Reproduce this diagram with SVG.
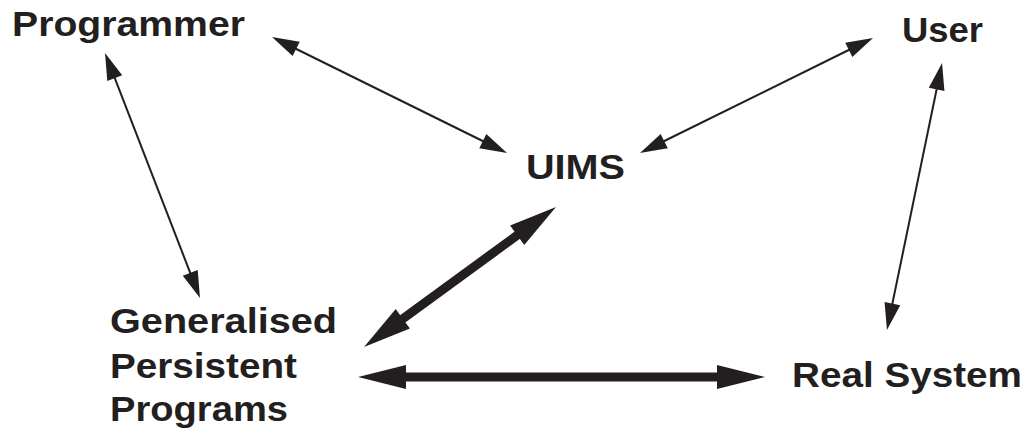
<svg xmlns="http://www.w3.org/2000/svg" width="1030" height="442" viewBox="0 0 1030 442">
<style>
text{font-family:"Liberation Sans",Arial,Helvetica,sans-serif;font-weight:bold;font-size:35px;fill:#231f20}
.thin{stroke:#231f20;stroke-width:2;fill:none}
.thick{stroke:#231f20;stroke-width:9;fill:none}
</style>
<defs>
<marker id="h" markerUnits="userSpaceOnUse" markerWidth="30" markerHeight="20" viewBox="0 -10 30 20" refX="0" refY="0" orient="auto-start-reverse" overflow="visible"><path d="M-1,-8 L26,0 L-1,8 z" fill="#231f20"/></marker>
<marker id="H" markerUnits="userSpaceOnUse" markerWidth="50" markerHeight="30" viewBox="0 -15 50 30" refX="0" refY="0" orient="auto-start-reverse" overflow="visible"><path d="M-1,-12 L47,0 L-1,12 z" fill="#231f20"/></marker>
</defs>
<rect width="1030" height="442" fill="#fff"/>
<g id="connectors">
<line class="thin" x1="295.3" y1="48.5" x2="483.7" y2="141.5" marker-start="url(#h)" marker-end="url(#h)"/>
<line class="thin" x1="663.3" y1="141.5" x2="849.7" y2="49.5" marker-start="url(#h)" marker-end="url(#h)"/>
<line class="thin" x1="114.4" y1="77.2" x2="190.6" y2="273.8" marker-start="url(#h)" marker-end="url(#h)"/>
<line class="thin" x1="936.8" y1="88.5" x2="892.2" y2="304.5" marker-start="url(#h)" marker-end="url(#h)"/>
<line class="thick" x1="402" y1="319.3" x2="518" y2="234.7" marker-start="url(#H)" marker-end="url(#H)"/>
<line class="thick" x1="405" y1="377" x2="718" y2="377" marker-start="url(#H)" marker-end="url(#H)"/>
</g>
<g id="programmer"><text x="12" y="36" textLength="233" lengthAdjust="spacingAndGlyphs">Programmer</text></g>
<g id="user"><text x="902" y="42" textLength="81" lengthAdjust="spacingAndGlyphs">User</text></g>
<g id="uims"><text x="526" y="179" textLength="99" lengthAdjust="spacingAndGlyphs">UIMS</text></g>
<g id="gpp">
<text x="110" y="333" textLength="227" lengthAdjust="spacingAndGlyphs">Generalised</text>
<text x="110" y="378" textLength="187" lengthAdjust="spacingAndGlyphs">Persistent</text>
<text x="110" y="421" textLength="178" lengthAdjust="spacingAndGlyphs">Programs</text>
</g>
<g id="realsystem"><text x="792" y="387" textLength="230" lengthAdjust="spacingAndGlyphs">Real System</text></g>
</svg>
